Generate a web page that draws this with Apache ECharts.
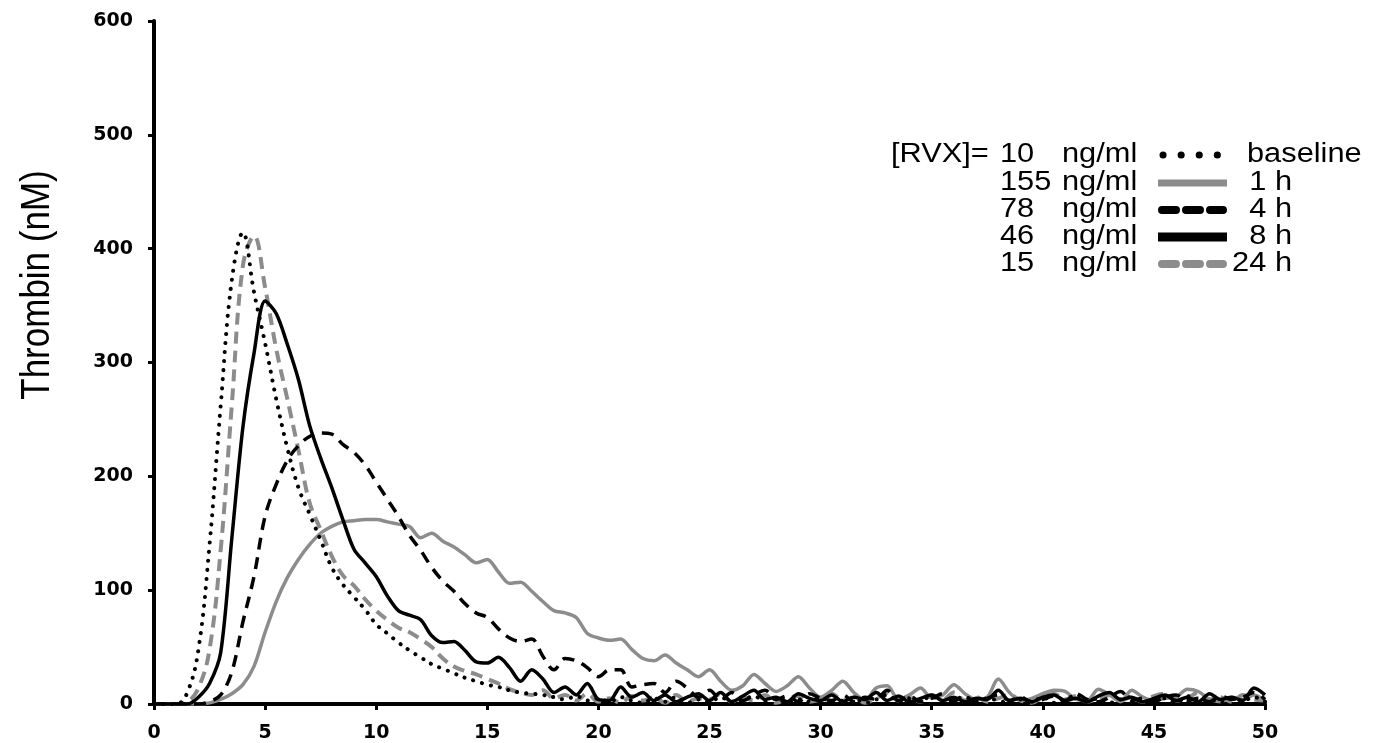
<!DOCTYPE html>
<html>
<head>
<meta charset="utf-8">
<script src="https://cdn.jsdelivr.net/npm/echarts@6/dist/echarts.min.js"></script>
<style>
  html, body { margin: 0; padding: 0; background: #fff; }
  #chart { width: 1373px; height: 743px; }
</style>
</head>
<body>
<div id="chart"></div>
<script>
// Sampling times (min)
const time = [
  0, 0.5, 1, 1.5, 2, 2.5, 3, 3.5, 4, 4.5, 5, 5.5, 6, 6.5, 7, 7.5, 8, 8.5, 9, 9.5,
  10, 10.5, 11, 11.5, 12, 12.5, 13, 13.5, 14, 14.5, 15, 15.5, 16, 16.5, 17, 17.5, 18, 18.5, 19, 19.5,
  20, 20.5, 21, 21.5, 22, 22.5, 23, 23.5, 24, 24.5, 25, 25.5, 26, 26.5, 27, 27.5, 28, 28.5, 29, 29.5,
  30, 30.5, 31, 31.5, 32, 32.5, 33, 33.5, 34, 34.5, 35, 35.5, 36, 36.5, 37, 37.5, 38, 38.5, 39, 39.5,
  40, 40.5, 41, 41.5, 42, 42.5, 43, 43.5, 44, 44.5, 45, 45.5, 46, 46.5, 47, 47.5, 48, 48.5, 49, 49.5, 50
];

// Thrombin (nM) per sampling time
const baseline = [
  0, 0, 0, 10, 48, 140, 262, 372, 414, 362, 317, 268, 225, 190, 167, 144, 120, 105, 94, 83,
  70, 62, 54, 47, 41, 35, 31, 27, 23, 20, 17, 15, 12, 10, 9, 8, 6, 4, 7, 3,
  5, 2, 6, 3, 1, 5, 2, 6, 1, 4, 2, 6, 1, 3, 7, 2, 5, 1, 4, 2,
  6, 1, 3, 5, 1, 4, 8, 2, 5, 3, 7, 1, 4, 6, 2, 5, 3, 1, 4, 2,
  6, 1, 3, 8, 2, 5, 1, 4, 6, 2, 3, 5, 1, 7, 2, 4, 1, 5, 3, 6, 2
];
const h1 = [
  0, 0, 0, 0, 0, 1, 4, 9, 17, 33, 63, 90, 111, 127, 140, 150, 156, 160, 161, 162,
  162, 160, 158, 156, 146, 150, 143, 138, 131, 124, 127, 116, 106, 107, 99, 90, 82, 80, 76, 62,
  58, 56, 57, 48, 40, 38, 43, 36, 30, 24, 30, 20, 12, 16, 26, 18, 11, 16, 24, 14,
  6, 12, 20, 10, 3, 14, 16, 4, 8, 14, 5, 8, 17, 9, 4, 6, 22, 10, 3, 5,
  9, 12, 11, 4, 3, 13, 8, 2, 12, 6, 3, 5, 6, 13, 11, 4, 2, 6, 4, 8, 3
];
const h4 = [
  0, 0, 0, 0, 0, 2, 8, 28, 72, 112, 165, 193, 214, 227, 235, 238, 237, 228, 221, 210,
  195, 180, 165, 148, 135, 120, 108, 99, 88, 80, 76, 66, 58, 55, 57, 42, 30, 40, 38, 32,
  24, 30, 30, 15, 17, 18, 10, 20, 14, 6, 12, 4, 10, 3, 8, 12, 4, 7, 2, 9,
  5, 3, 8, 2, 6, 4, 12, 3, 7, 2, 5, 9, 3, 6, 2, 5, 8, 3, 6, 2,
  4, 7, 3, 9, 4, 2, 6, 11, 3, 5, 2, 6, 8, 3, 5, 2, 7, 4, 6, 10, 4
];
const h8 = [
  0, 0, 0, 0, 6, 18, 45, 145, 243, 308, 354, 343, 316, 285, 245, 216, 190, 162, 136, 124,
  112, 95, 82, 78, 74, 60, 54, 55, 47, 37, 36, 41, 32, 20, 30, 22, 10, 15, 8, 18,
  4, 3, 15, 6, 10, 3, 8, 2, 6, 9, 3, 10, 2, 7, 12, 4, 6, 2, 9, 5,
  3, 8, 2, 6, 4, 10, 3, 7, 2, 5, 8, 3, 6, 2, 5, 4, 12, 3, 5, 2,
  6, 8, 3, 5, 2, 7, 10, 4, 6, 2, 5, 8, 3, 6, 2, 9, 4, 6, 3, 14, 8
];
const h24 = [
  0, 0, 0, 2, 14, 48, 135, 262, 385, 411, 366, 312, 268, 223, 177, 153, 130, 113, 104, 92,
  82, 74, 67, 63, 57, 50, 40, 33, 29, 26, 22, 18, 13, 10, 8, 12, 5, 8, 3, 9,
  2, 5, 1, 7, 3, 6, 1, 8, 2, 5, 4, 9, 2, 6, 3, 8, 1, 5, 7, 2,
  4, 9, 3, 6, 1, 5, 10, 3, 6, 2, 8, 4, 10, 3, 6, 2, 5, 8, 3, 1,
  6, 9, 4, 7, 2, 5, 8, 3, 6, 2, 7, 9, 3, 5, 10, 4, 6, 2, 8, 4, 3
];

// Legend text
const doses = ['10', '155', '78', '46', '15'];
const timeLabels = ['baseline', '1 h', '4 h', '8 h', '24 h'];

const GRAY = '#8c8c8c';
const pair = vals => time.map((t, i) => [t, vals[i]]);

const chart = echarts.init(document.getElementById('chart'), null, { renderer: 'canvas' });

// legend rows drawn as graphic elements
const rowY = [155, 183, 210, 237, 264];
const legendFont = '27px "Liberation Sans", Arial, sans-serif';
const sx = 1.14;
const sampleStyles = [
  { stroke: '#000', lineWidth: 7, lineDash: [0.1, 18], lineCap: 'round', x1: 1163, x2: 1219 },
  { stroke: GRAY, lineWidth: 7, lineCap: 'butt', x1: 1158, x2: 1227 },
  { stroke: '#000', lineWidth: 8, lineDash: [14, 10], lineCap: 'round', x1: 1162, x2: 1223 },
  { stroke: '#000', lineWidth: 9, lineCap: 'butt', x1: 1158, x2: 1227 },
  { stroke: GRAY, lineWidth: 8, lineDash: [14, 10], lineCap: 'round', x1: 1162, x2: 1223 }
];
const legendGraphics = [];
legendGraphics.push({
  type: 'text', x: 891, y: rowY[0], scaleX: sx,
  style: { text: '[RVX]=', font: legendFont, fill: '#000', align: 'left', verticalAlign: 'middle' }
});
rowY.forEach((y, i) => {
  legendGraphics.push({
    type: 'text', x: 1000, y: y, scaleX: sx,
    style: { text: doses[i], font: legendFont, fill: '#000', align: 'left', verticalAlign: 'middle' }
  });
  legendGraphics.push({
    type: 'text', x: 1062, y: y, scaleX: sx,
    style: { text: 'ng/ml', font: legendFont, fill: '#000', align: 'left', verticalAlign: 'middle' }
  });
  const s = sampleStyles[i];
  legendGraphics.push({
    type: 'line',
    shape: { x1: s.x1, y1: y, x2: s.x2, y2: y },
    style: { stroke: s.stroke, lineWidth: s.lineWidth, lineDash: s.lineDash || null, lineCap: s.lineCap }
  });
  legendGraphics.push({
    type: 'text', x: i === 0 ? 1247 : 1292, y: y, scaleX: sx,
    style: { text: timeLabels[i], font: legendFont, fill: '#000',
             align: i === 0 ? 'left' : 'right', verticalAlign: 'middle' }
  });
});
// y-axis title
legendGraphics.push({
  type: 'text', x: 38, y: 285, rotation: Math.PI / 2, scaleY: 1.15,
  style: { text: 'Thrombin (nM)', font: '35px "Liberation Sans", Arial, sans-serif', fill: '#000',
           align: 'center', verticalAlign: 'middle' }
});

const lineSeries = (name, vals, color, width, type, smooth) => ({
  name, type: 'line', data: pair(vals), showSymbol: false, symbol: 'none',
  smooth: smooth,
  lineStyle: { color, width, type, cap: Array.isArray(type) && type[0] < 1 ? 'round' : 'butt',
               join: 'round' },
  itemStyle: { color }
});

const axisFont = { color: '#000', fontWeight: 'bold', fontSize: 19,
                   fontFamily: '"DejaVu Sans", Verdana, sans-serif' };

chart.setOption({
  animation: false,
  backgroundColor: '#fff',
  grid: { left: 154, right: 108, top: 21, bottom: 39, containLabel: false },
  xAxis: {
    type: 'value', min: 0, max: 50, interval: 5,
    axisLine: { show: true, lineStyle: { color: '#000', width: 4 } },
    axisTick: { show: true, length: 6, lineStyle: { color: '#000', width: 3 } },
    axisLabel: Object.assign({ margin: 20 }, axisFont),
    splitLine: { show: false }
  },
  yAxis: {
    type: 'value', min: 0, max: 600, interval: 100,
    axisLine: { show: true, lineStyle: { color: '#000', width: 4 } },
    axisTick: { show: true, length: 6, lineStyle: { color: '#000', width: 3 } },
    axisLabel: Object.assign({ margin: 21 }, axisFont),
    splitLine: { show: false }
  },
  graphic: legendGraphics,
  series: [
    lineSeries('1 h', h1, GRAY, 3.5, 'solid', 0.3),
    lineSeries('24 h', h24, GRAY, 4, [12, 7], 0.4),
    lineSeries('baseline', baseline, '#000', 4, [0.1, 9], 0.4),
    lineSeries('4 h', h4, '#000', 3.5, [12, 8], 0.35),
    lineSeries('8 h', h8, '#000', 3.5, 'solid', 0.3)
  ]
});
</script>
</body>
</html>
